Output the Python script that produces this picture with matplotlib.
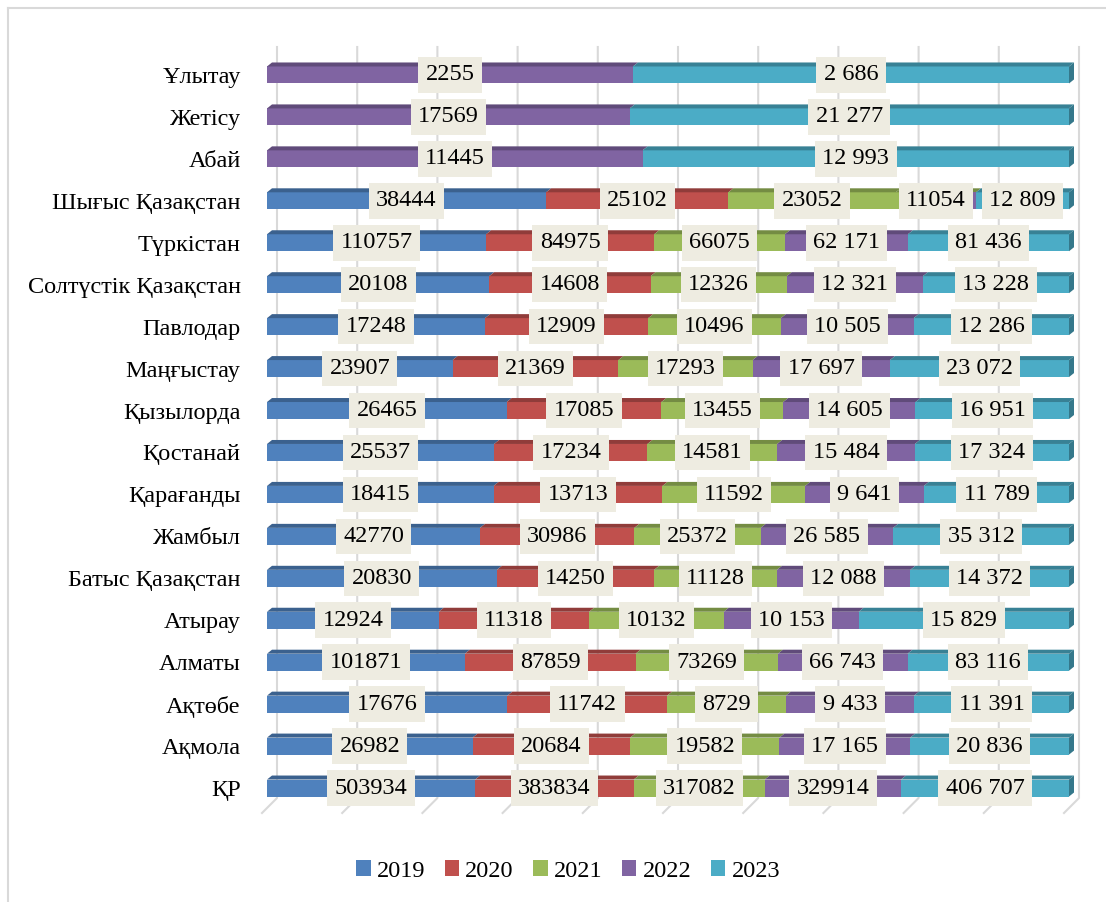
import matplotlib.pyplot as plt
from matplotlib.patches import Polygon, Patch
from matplotlib.lines import Line2D
from matplotlib.colors import to_rgb

plt.rcParams['font.family'] = ['Liberation Serif', 'DejaVu Serif']

# regions, top to bottom as in the chart
regions = ['Ұлытау', 'Жетісу', 'Абай', 'Шығыс Қазақстан', 'Түркістан',
           'Солтүстік Қазақстан', 'Павлодар', 'Маңғыстау', 'Қызылорда',
           'Қостанай', 'Қарағанды', 'Жамбыл', 'Батыс Қазақстан', 'Атырау',
           'Алматы', 'Ақтөбе', 'Ақмола', 'ҚР']
years = ['2019', '2020', '2021', '2022', '2023']

# data labels as printed (empty = no data)
lab_2019 = ['', '', '', '38444', '110757', '20108', '17248', '23907', '26465',
            '25537', '18415', '42770', '20830', '12924', '101871', '17676',
            '26982', '503934']
lab_2020 = ['', '', '', '25102', '84975', '14608', '12909', '21369', '17085',
            '17234', '13713', '30986', '14250', '11318', '87859', '11742',
            '20684', '383834']
lab_2021 = ['', '', '', '23052', '66075', '12326', '10496', '17293', '13455',
            '14581', '11592', '25372', '11128', '10132', '73269', '8729',
            '19582', '317082']
lab_2022 = ['2255', '17569', '11445', '11054', '62 171', '12 321', '10 505',
            '17 697', '14 605', '15 484', '9 641', '26 585', '12 088', '10 153',
            '66 743', '9 433', '17 165', '329914']
lab_2023 = ['2 686', '21 277', '12 993', '12 809', '81 436', '13 228', '12 286',
            '23 072', '16 951', '17 324', '11 789', '35 312', '14 372', '15 829',
            '83 116', '11 391', '20 836', '406 707']

colors = ['#4F81BD', '#C0504D', '#9BBB59', '#8064A2', '#4BACC6']
# in the source chart this one point is filled green
override = {('Шығыс Қазақстан', 3): '#9BBB59'}

series = [lab_2019, lab_2020, lab_2021, lab_2022, lab_2023]
values = [[int(s.replace(' ', '')) if s else 0 for s in col] for col in series]


def darker(c, f=0.75):
    r, g, b = to_rgb(c)
    return (r * f, g * f, b * f)


W, H = 1106, 902
fig = plt.figure(figsize=(W / 100, H / 100), dpi=100)
ax = fig.add_axes([267 / W, 93 / H, 802 / W, 755 / H])
n = len(regions)
ax.set_xlim(0, 1)
ax.set_ylim(-0.5, n - 0.5)
for s in ax.spines.values():
    s.set_visible(False)
ax.set_xticks([])

px_x = 1 / 802      # one pixel in x data units
px_y = 1 / 41.94    # one pixel in y data units
bar_h = 17 * px_y
dx, dy = 5 * px_x, 4 * px_y

# back wall gridlines with floor tails
gx0 = 10 * px_x
y_bot = -0.5 + 11 * px_y
y_top = n - 0.5 + 7 * px_y
for k in range(11):
    x = k / 10 + gx0
    ax.plot([x, x, x - 15 * px_x], [y_top, y_bot, y_bot - 15 * px_y],
            color='#D9D9D9', lw=1.5, zorder=1, clip_on=False)

for i, region in enumerate(regions):
    y = n - 1 - i
    total = sum(v[i] for v in values)
    left = 0
    for k in range(5):
        w = values[k][i] / total
        if w == 0:
            continue
        c = override.get((region, k), colors[k])
        ax.barh(y, w, left=left, height=bar_h, color=c, zorder=3)
        top = [(left, y + bar_h / 2), (left + w, y + bar_h / 2),
               (left + w + dx, y + bar_h / 2 + dy), (left + dx, y + bar_h / 2 + dy)]
        ax.add_patch(Polygon(top, closed=True, facecolor=darker(c), zorder=3, clip_on=False))
        if c != colors[k]:
            ax.barh(y, 3 * px_x, left=left + w - 3 * px_x, height=bar_h,
                    color=colors[k], zorder=4)
        ax.text(left + w / 2, y, series[k][i], ha='center', va='center',
                fontsize=17.5, zorder=10,
                bbox=dict(boxstyle='square,pad=0.3', facecolor='#EEECE1', edgecolor='none'))
        left += w
    side = [(1, y - bar_h / 2), (1 + dx, y - bar_h / 2 + dy),
            (1 + dx, y + bar_h / 2 + dy), (1, y + bar_h / 2)]
    ax.add_patch(Polygon(side, closed=True, facecolor=darker(colors[4], 0.7),
                         zorder=3, clip_on=False))

ax.set_yticks(range(n))
ax.set_yticklabels(regions[::-1], fontsize=17.5)
ax.tick_params(axis='y', length=0, pad=19)

handles = [Patch(facecolor=c) for c in colors]
fig.legend(handles, years, loc='center', bbox_to_anchor=(568 / W, 1 - 871 / H),
           ncol=5, frameon=False, fontsize=17.5, handlelength=0.6, handleheight=0.6,
           handletextpad=0.25, columnspacing=0.8)

# outer frame (left and top edges visible)
fig.add_artist(Line2D([8 / W, 8 / W], [0, 1 - 8 / H], color='#D9D9D9', lw=1.5))
fig.add_artist(Line2D([8 / W, 1], [1 - 8 / H, 1 - 8 / H], color='#D9D9D9', lw=1.5))

fig.savefig('out.png', dpi=100)
